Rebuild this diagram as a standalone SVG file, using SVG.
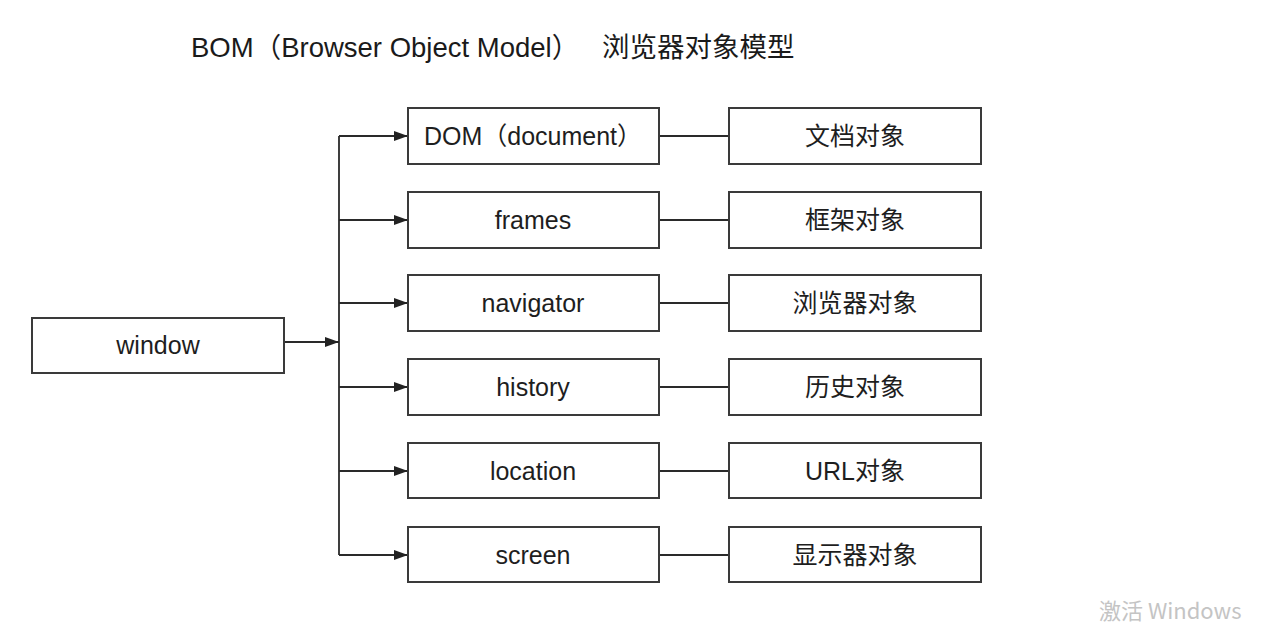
<svg xmlns="http://www.w3.org/2000/svg" width="1267" height="625" viewBox="0 0 1267 625">
  <defs>
    <marker id="arrow" viewBox="0 0 14 10" refX="14" refY="5" markerWidth="14" markerHeight="10" markerUnits="userSpaceOnUse" orient="auto">
      <path d="M0,0 L14,5 L0,10 Z" fill="#222"/>
    </marker>
  </defs>
  <style>
    .box { fill: #ffffff; stroke: #3a3a3a; stroke-width: 2; }
    .lbl { font-family: "Liberation Sans", "Noto Sans CJK SC", sans-serif; font-size: 25px; fill: #1e1e1e; text-anchor: middle; }
    .title { font-family: "Liberation Sans", "Noto Sans CJK SC", sans-serif; font-size: 27.5px; fill: #1a1a1a; }
    .wire { fill: none; stroke: #2a2a2a; stroke-width: 1.8; }
    .arr { marker-end: url(#arrow); }
  </style>
  <rect width="1267" height="625" fill="#ffffff"/>

  <text class="title" y="57"><tspan x="191">BOM（Browser Object Model）</tspan><tspan x="602">浏览器对象模型</tspan></text>

  <g id="connectors">
    <path class="wire arr" d="M284,342 L339,342"/>
    <path class="wire" d="M339,136 L339,555"/>
    <path class="wire arr" d="M339,136 L408,136"/>
    <path class="wire arr" d="M339,220 L408,220"/>
    <path class="wire arr" d="M339,303 L408,303"/>
    <path class="wire arr" d="M339,387 L408,387"/>
    <path class="wire arr" d="M339,471 L408,471"/>
    <path class="wire arr" d="M339,555 L408,555"/>
    <path class="wire" d="M659,136 L729,136"/>
    <path class="wire" d="M659,220 L729,220"/>
    <path class="wire" d="M659,303 L729,303"/>
    <path class="wire" d="M659,387 L729,387"/>
    <path class="wire" d="M659,471 L729,471"/>
    <path class="wire" d="M659,555 L729,555"/>
  </g>

  <g id="window">
    <rect class="box" x="32" y="318" width="252" height="55"/>
    <text class="lbl" x="158" y="354">window</text>
  </g>

  <g id="dom">
    <rect class="box" x="408" y="108" width="251" height="56"/>
    <text class="lbl" x="533" y="145">DOM（document）</text>
  </g>
  <g id="frames">
    <rect class="box" x="408" y="192" width="251" height="56"/>
    <text class="lbl" x="533" y="229">frames</text>
  </g>
  <g id="navigator">
    <rect class="box" x="408" y="275" width="251" height="56"/>
    <text class="lbl" x="533" y="312">navigator</text>
  </g>
  <g id="history">
    <rect class="box" x="408" y="359" width="251" height="56"/>
    <text class="lbl" x="533" y="396">history</text>
  </g>
  <g id="location">
    <rect class="box" x="408" y="443" width="251" height="55"/>
    <text class="lbl" x="533" y="480">location</text>
  </g>
  <g id="screen">
    <rect class="box" x="408" y="527" width="251" height="55"/>
    <text class="lbl" x="533" y="564">screen</text>
  </g>

  <g id="doc-obj">
    <rect class="box" x="729" y="108" width="252" height="56"/>
    <text class="lbl" x="855" y="145">文档对象</text>
  </g>
  <g id="frame-obj">
    <rect class="box" x="729" y="192" width="252" height="56"/>
    <text class="lbl" x="855" y="229">框架对象</text>
  </g>
  <g id="browser-obj">
    <rect class="box" x="729" y="275" width="252" height="56"/>
    <text class="lbl" x="855" y="312">浏览器对象</text>
  </g>
  <g id="history-obj">
    <rect class="box" x="729" y="359" width="252" height="56"/>
    <text class="lbl" x="855" y="396">历史对象</text>
  </g>
  <g id="url-obj">
    <rect class="box" x="729" y="443" width="252" height="55"/>
    <text class="lbl" x="855" y="480">URL对象</text>
  </g>
  <g id="screen-obj">
    <rect class="box" x="729" y="527" width="252" height="55"/>
    <text class="lbl" x="855" y="564">显示器对象</text>
  </g>

  <text x="1099" y="619" font-family="'Noto Sans CJK SC', 'Liberation Sans', sans-serif" font-size="22" fill="#c4c4c4">激活 Windows</text>
</svg>
